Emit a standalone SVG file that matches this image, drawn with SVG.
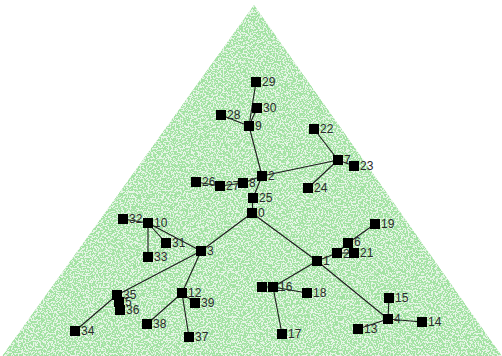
<svg xmlns="http://www.w3.org/2000/svg" width="502" height="356" viewBox="0 0 502 356">
  <style>
    .edge { stroke: #1a1a1a; stroke-width: 1.1; fill: none; }
    .node rect { fill: #000; }
    .node text { font-family: "Liberation Sans", Arial, sans-serif; font-size: 12px; fill: #2a2a2a; }
  </style>
  <defs>
    <filter id="grain" x="0" y="0" width="1" height="1">
      <feTurbulence type="fractalNoise" baseFrequency="0.6" numOctaves="2" seed="7" result="noise"/>
      <feColorMatrix in="noise" type="matrix" values="0 0 0 0 0.36  0 0 0 0 0.76  0 0 0 0 0.36  14 0 0 0 -6.2" result="dots"/>
      <feComposite in="dots" in2="SourceGraphic" operator="in"/>
    </filter>
  </defs>
  <rect width="502" height="356" fill="#fff"/>
  <!-- stippled triangular field -->
  <polygon points="254,5 0,359 504,359" fill="#e6f5e6"/>
  <polygon points="254,5 0,359 504,359" fill="#000" filter="url(#grain)"/>

  <g id="connectors">
    <line class="edge" x1="256" y1="82" x2="249" y2="126"/>
    <line class="edge" x1="257" y1="108" x2="249" y2="126"/>
    <line class="edge" x1="221" y1="115" x2="249" y2="126"/>
    <line class="edge" x1="249" y1="126" x2="262" y2="176"/>
    <line class="edge" x1="262" y1="176" x2="338" y2="160"/>
    <line class="edge" x1="338" y1="160" x2="314" y2="129"/>
    <line class="edge" x1="338" y1="160" x2="354" y2="166"/>
    <line class="edge" x1="338" y1="160" x2="308" y2="188"/>
    <line class="edge" x1="262" y1="176" x2="243" y2="183"/>
    <line class="edge" x1="243" y1="183" x2="220" y2="186"/>
    <line class="edge" x1="220" y1="186" x2="196" y2="182"/>
    <line class="edge" x1="262" y1="176" x2="253" y2="198"/>
    <line class="edge" x1="253" y1="198" x2="252" y2="213"/>
    <line class="edge" x1="252" y1="213" x2="201" y2="251"/>
    <line class="edge" x1="252" y1="213" x2="317" y2="261"/>
    <line class="edge" x1="201" y1="251" x2="148" y2="223"/>
    <line class="edge" x1="148" y1="223" x2="123" y2="219"/>
    <line class="edge" x1="148" y1="223" x2="148" y2="257"/>
    <line class="edge" x1="148" y1="223" x2="166" y2="243"/>
    <line class="edge" x1="201" y1="251" x2="117" y2="295"/>
    <line class="edge" x1="201" y1="251" x2="182" y2="293"/>
    <line class="edge" x1="117" y1="295" x2="75" y2="331"/>
    <line class="edge" x1="117" y1="295" x2="120" y2="310"/>
    <line class="edge" x1="117" y1="295" x2="119" y2="302"/>
    <line class="edge" x1="182" y1="293" x2="195" y2="303"/>
    <line class="edge" x1="182" y1="293" x2="147" y2="324"/>
    <line class="edge" x1="182" y1="293" x2="189" y2="337"/>
    <line class="edge" x1="317" y1="261" x2="337" y2="253"/>
    <line class="edge" x1="337" y1="253" x2="354" y2="253"/>
    <line class="edge" x1="337" y1="253" x2="348" y2="243"/>
    <line class="edge" x1="348" y1="243" x2="375" y2="224"/>
    <line class="edge" x1="317" y1="261" x2="273" y2="287"/>
    <line class="edge" x1="273" y1="287" x2="262" y2="287"/>
    <line class="edge" x1="273" y1="287" x2="307" y2="293"/>
    <line class="edge" x1="273" y1="287" x2="282" y2="334"/>
    <line class="edge" x1="317" y1="261" x2="388" y2="319"/>
    <line class="edge" x1="388" y1="319" x2="389" y2="298"/>
    <line class="edge" x1="388" y1="319" x2="422" y2="322"/>
    <line class="edge" x1="388" y1="319" x2="358" y2="329"/>
  </g>

  <g id="n0" class="node"><rect x="247" y="208" width="10" height="10"/><text x="258" y="217">0</text></g>
  <g id="n1" class="node"><rect x="312" y="256" width="10" height="10"/><text x="323" y="265">1</text></g>
  <g id="n3" class="node"><rect x="196" y="246" width="10" height="10"/><text x="207" y="255">3</text></g>
  <g id="n4" class="node"><rect x="383" y="314" width="10" height="10"/><text x="394" y="323">4</text></g>
  <g id="n7" class="node"><rect x="333" y="155" width="10" height="10"/><text x="344" y="164">7</text></g>
  <g id="n9" class="node"><rect x="244" y="121" width="10" height="10"/><text x="255" y="130">9</text></g>
  <g id="n10" class="node"><rect x="143" y="218" width="10" height="10"/><text x="154" y="227">10</text></g>
  <g id="n12" class="node"><rect x="177" y="288" width="10" height="10"/><text x="188" y="297">12</text></g>
  <g id="n13" class="node"><rect x="353" y="324" width="10" height="10"/><text x="364" y="333">13</text></g>
  <g id="n14" class="node"><rect x="417" y="317" width="10" height="10"/><text x="428" y="326">14</text></g>
  <g id="n15" class="node"><rect x="384" y="293" width="10" height="10"/><text x="395" y="302">15</text></g>
  <g id="n11" class="node"><rect x="257" y="282" width="10" height="10"/><text x="268" y="291">11</text></g>
  <g id="n16" class="node"><rect x="268" y="282" width="10" height="10"/><text x="279" y="291">16</text></g>
  <g id="n17" class="node"><rect x="277" y="329" width="10" height="10"/><text x="288" y="338">17</text></g>
  <g id="n18" class="node"><rect x="302" y="288" width="10" height="10"/><text x="313" y="297">18</text></g>
  <g id="n19" class="node"><rect x="370" y="219" width="10" height="10"/><text x="381" y="228">19</text></g>
  <g id="n6" class="node"><rect x="343" y="238" width="10" height="10"/><text x="354" y="246">6</text></g>
  <g id="n20" class="node"><rect x="332" y="248" width="10" height="10"/><text x="343" y="258">20</text></g>
  <g id="n21" class="node"><rect x="349" y="248" width="10" height="10"/><text x="360" y="257">21</text></g>
  <g id="n22" class="node"><rect x="309" y="124" width="10" height="10"/><text x="320" y="133">22</text></g>
  <g id="n23" class="node"><rect x="349" y="161" width="10" height="10"/><text x="360" y="170">23</text></g>
  <g id="n24" class="node"><rect x="303" y="183" width="10" height="10"/><text x="314" y="192">24</text></g>
  <g id="n25" class="node"><rect x="248" y="193" width="10" height="10"/><text x="259" y="202">25</text></g>
  <g id="n26" class="node"><rect x="191" y="177" width="10" height="10"/><text x="202" y="186">26</text></g>
  <g id="n27" class="node"><rect x="215" y="181" width="10" height="10"/><text x="226" y="190">27</text></g>
  <g id="n8" class="node"><rect x="238" y="178" width="10" height="10"/><text x="249" y="187">8</text></g>
  <g id="n2" class="node"><rect x="257" y="171" width="10" height="10"/><text x="268" y="180">2</text></g>
  <g id="n28" class="node"><rect x="216" y="110" width="10" height="10"/><text x="227" y="119">28</text></g>
  <g id="n29" class="node"><rect x="251" y="77" width="10" height="10"/><text x="262" y="86">29</text></g>
  <g id="n30" class="node"><rect x="252" y="103" width="10" height="10"/><text x="263" y="112">30</text></g>
  <g id="n31" class="node"><rect x="161" y="238" width="10" height="10"/><text x="172" y="247">31</text></g>
  <g id="n32" class="node"><rect x="118" y="214" width="10" height="10"/><text x="129" y="223">32</text></g>
  <g id="n33" class="node"><rect x="143" y="252" width="10" height="10"/><text x="154" y="261">33</text></g>
  <g id="n34" class="node"><rect x="70" y="326" width="10" height="10"/><text x="81" y="335">34</text></g>
  <g id="n5" class="node"><rect x="114" y="297" width="10" height="10"/><text x="125" y="306">5</text></g>
  <g id="n35" class="node"><rect x="112" y="290" width="10" height="10"/><text x="123" y="299">35</text></g>
  <g id="n36" class="node"><rect x="115" y="305" width="10" height="10"/><text x="126" y="314">36</text></g>
  <g id="n37" class="node"><rect x="184" y="332" width="10" height="10"/><text x="195" y="341">37</text></g>
  <g id="n38" class="node"><rect x="142" y="319" width="10" height="10"/><text x="153" y="328">38</text></g>
  <g id="n39" class="node"><rect x="190" y="298" width="10" height="10"/><text x="201" y="307">39</text></g>
</svg>
